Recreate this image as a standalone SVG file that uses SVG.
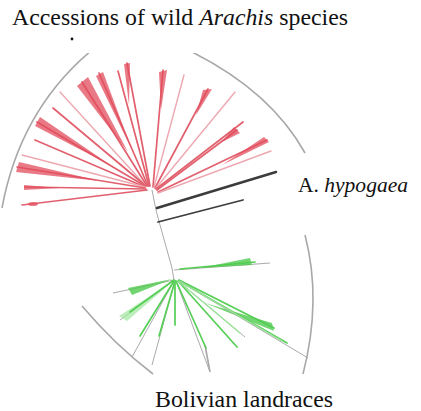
<svg xmlns="http://www.w3.org/2000/svg" width="421" height="411" viewBox="0 0 421 411">
<defs>
<style>
.lbl{fill:#111;font-family:"Liberation Serif","DejaVu Serif",serif;}
.arc{fill:none;stroke:#a8a8a8;stroke-width:1.6;}
.gr{fill:none;stroke:#aaaaaa;stroke-width:1;}
.r{stroke:#e2606e;stroke-width:1.7;fill:none;stroke-linecap:round;}
.rp{stroke:#eda8b1;stroke-width:1.4;fill:none;stroke-linecap:round;}
.rw{fill:#e24c5c;fill-opacity:0.75;stroke:none;}
.dk{stroke:#3c3c3c;fill:none;stroke-linecap:round;}
.g{stroke:#56cf56;stroke-width:1.7;fill:none;stroke-linecap:round;}
.gl{stroke:#9be39b;stroke-width:1.4;fill:none;stroke-linecap:round;}
.gw{fill:#4fcb4f;fill-opacity:0.8;stroke:none;}
.glw{fill:#a6e8a6;fill-opacity:0.75;stroke:none;}
</style>
<clipPath id="treeclip"><rect x="0" y="53" width="421" height="322"/></clipPath>
</defs>
<rect width="421" height="411" fill="#ffffff"/>

<g id="labels">
<text class="lbl" x="12" y="25" font-size="23" textLength="336" lengthAdjust="spacingAndGlyphs">Accessions of wild <tspan font-style="italic">Arachis</tspan> species</text>
<circle cx="72" cy="39" r="1.4" fill="#111"/>
<text class="lbl" x="298" y="192" font-size="21" textLength="110" lengthAdjust="spacingAndGlyphs">A. <tspan font-style="italic">hypogaea</tspan></text>
<text class="lbl" x="155" y="407" font-size="23" textLength="178" lengthAdjust="spacingAndGlyphs">Bolivian landraces</text>
</g>

<g id="arcs" clip-path="url(#treeclip)">
<path class="arc" d="M 2 208 Q 20 110 92 50"/>
<path class="arc" d="M 188 50 Q 270 90 305 153"/>
<path class="arc" d="M 305 235 Q 322 300 303 374"/>
<path class="arc" d="M 82 306 Q 115 345 153 374"/>
<path class="arc" d="M 205 345 L 210 372"/>
</g>

<g id="connectors">
<path class="gr" stroke-width="1.5" d="M 152 190 L 156 210 L 160 225 L 172 268 L 174 280"/>
</g>

<g id="wild-species">
<line class="r" x1="150" y1="186" x2="127" y2="63"/>
<polygon class="rw" points="129,105 124,64 130,63"/>
<line class="r" x1="149" y1="186" x2="118" y2="71"/>
<line class="r" x1="148" y1="186" x2="99" y2="73"/>
<polygon class="rw" points="132,150 96,76 103,72"/>
<line class="r" x1="147" y1="186" x2="82" y2="82"/>
<polygon class="rw" points="128,152 77,86 88,77"/>
<line class="rp" x1="146" y1="186" x2="60" y2="92"/>
<line class="r" x1="146" y1="186" x2="53" y2="108"/>
<line class="r" x1="145" y1="186" x2="37" y2="122"/>
<polygon class="rw" points="112,166 35,126 40,117"/>
<line class="r" x1="145" y1="187" x2="35" y2="140"/>
<line class="rp" x1="145" y1="187" x2="22" y2="155"/>
<line class="r" x1="145" y1="188" x2="17" y2="167"/>
<polygon class="rw" points="100,181 16,172 19,162"/>
<line class="r" x1="146" y1="189" x2="25" y2="187"/>
<polygon class="rw" points="60,188 24,185 24,190"/>
<line class="r" x1="147" y1="190" x2="22" y2="205"/>
<ellipse class="rw" cx="33" cy="204" rx="5" ry="2"/>
<line class="r" x1="153" y1="187" x2="163" y2="70"/>
<polygon class="rw" points="161,110 159,72 167,70"/>
<line class="rp" x1="154" y1="187" x2="184" y2="75"/>
<line class="r" x1="155" y1="188" x2="208" y2="89"/>
<polygon class="rw" points="196,115 203,90 212,89"/>
<line class="rp" stroke="#d8a8b0" x1="156" y1="188" x2="235" y2="92"/>
<line class="r" x1="156" y1="189" x2="243" y2="122"/>
<line class="r" x1="157" y1="190" x2="237" y2="130"/>
<polygon class="rw" points="222,142 234,127 240,133"/>
<line class="r" x1="158" y1="192" x2="267" y2="140"/>
<polygon class="rw" points="222,165 264,137 269,142"/>
<line class="rp" x1="158" y1="193" x2="271" y2="151"/>
</g>

<g id="hypogaea">
<line class="dk" stroke-width="2.6" x1="157" y1="208" x2="276" y2="172"/>
<line class="dk" stroke="#555" stroke-width="1.8" x1="158" y1="222" x2="243" y2="200"/>
</g>

<g id="landraces">
<line class="gr" x1="174" y1="270" x2="270" y2="263"/>
<line class="g" x1="180" y1="269" x2="255" y2="262"/>
<polygon class="gw" points="200,268 250,258 252,265"/>

<line class="gr" x1="174" y1="280" x2="113" y2="293"/>
<polygon class="gw" points="172,279 128,288 132,295"/>
<line class="gr" x1="174" y1="280" x2="120" y2="320"/>
<polygon class="glw" points="172,282 119,316 127,321"/>
<line class="g" x1="174" y1="280" x2="130" y2="312"/>
<line class="gr" x1="174" y1="281" x2="132" y2="357"/>
<line class="g" x1="174" y1="281" x2="140" y2="336"/>
<line class="gr" x1="175" y1="281" x2="152" y2="365"/>
<line class="g" x1="175" y1="281" x2="159" y2="336"/>
<line class="g" x1="175" y1="281" x2="175" y2="325"/>
<line class="gr" x1="176" y1="281" x2="210" y2="372"/>
<line class="g" x1="176" y1="281" x2="206" y2="348"/>
<line class="g" x1="178" y1="281" x2="237" y2="347"/>
<line class="gr" x1="178" y1="281" x2="245" y2="337"/>
<line class="gl" x1="178" y1="281" x2="240" y2="333"/>
<line class="g" x1="179" y1="280" x2="274" y2="328"/>
<polygon class="gw" points="205,303 272,323 274,331"/>
<line class="g" x1="179" y1="281" x2="287" y2="343"/>
<line class="gr" x1="179" y1="281" x2="308" y2="358"/>
<line class="gl" x1="179" y1="281" x2="282" y2="341"/>
</g>
</svg>
